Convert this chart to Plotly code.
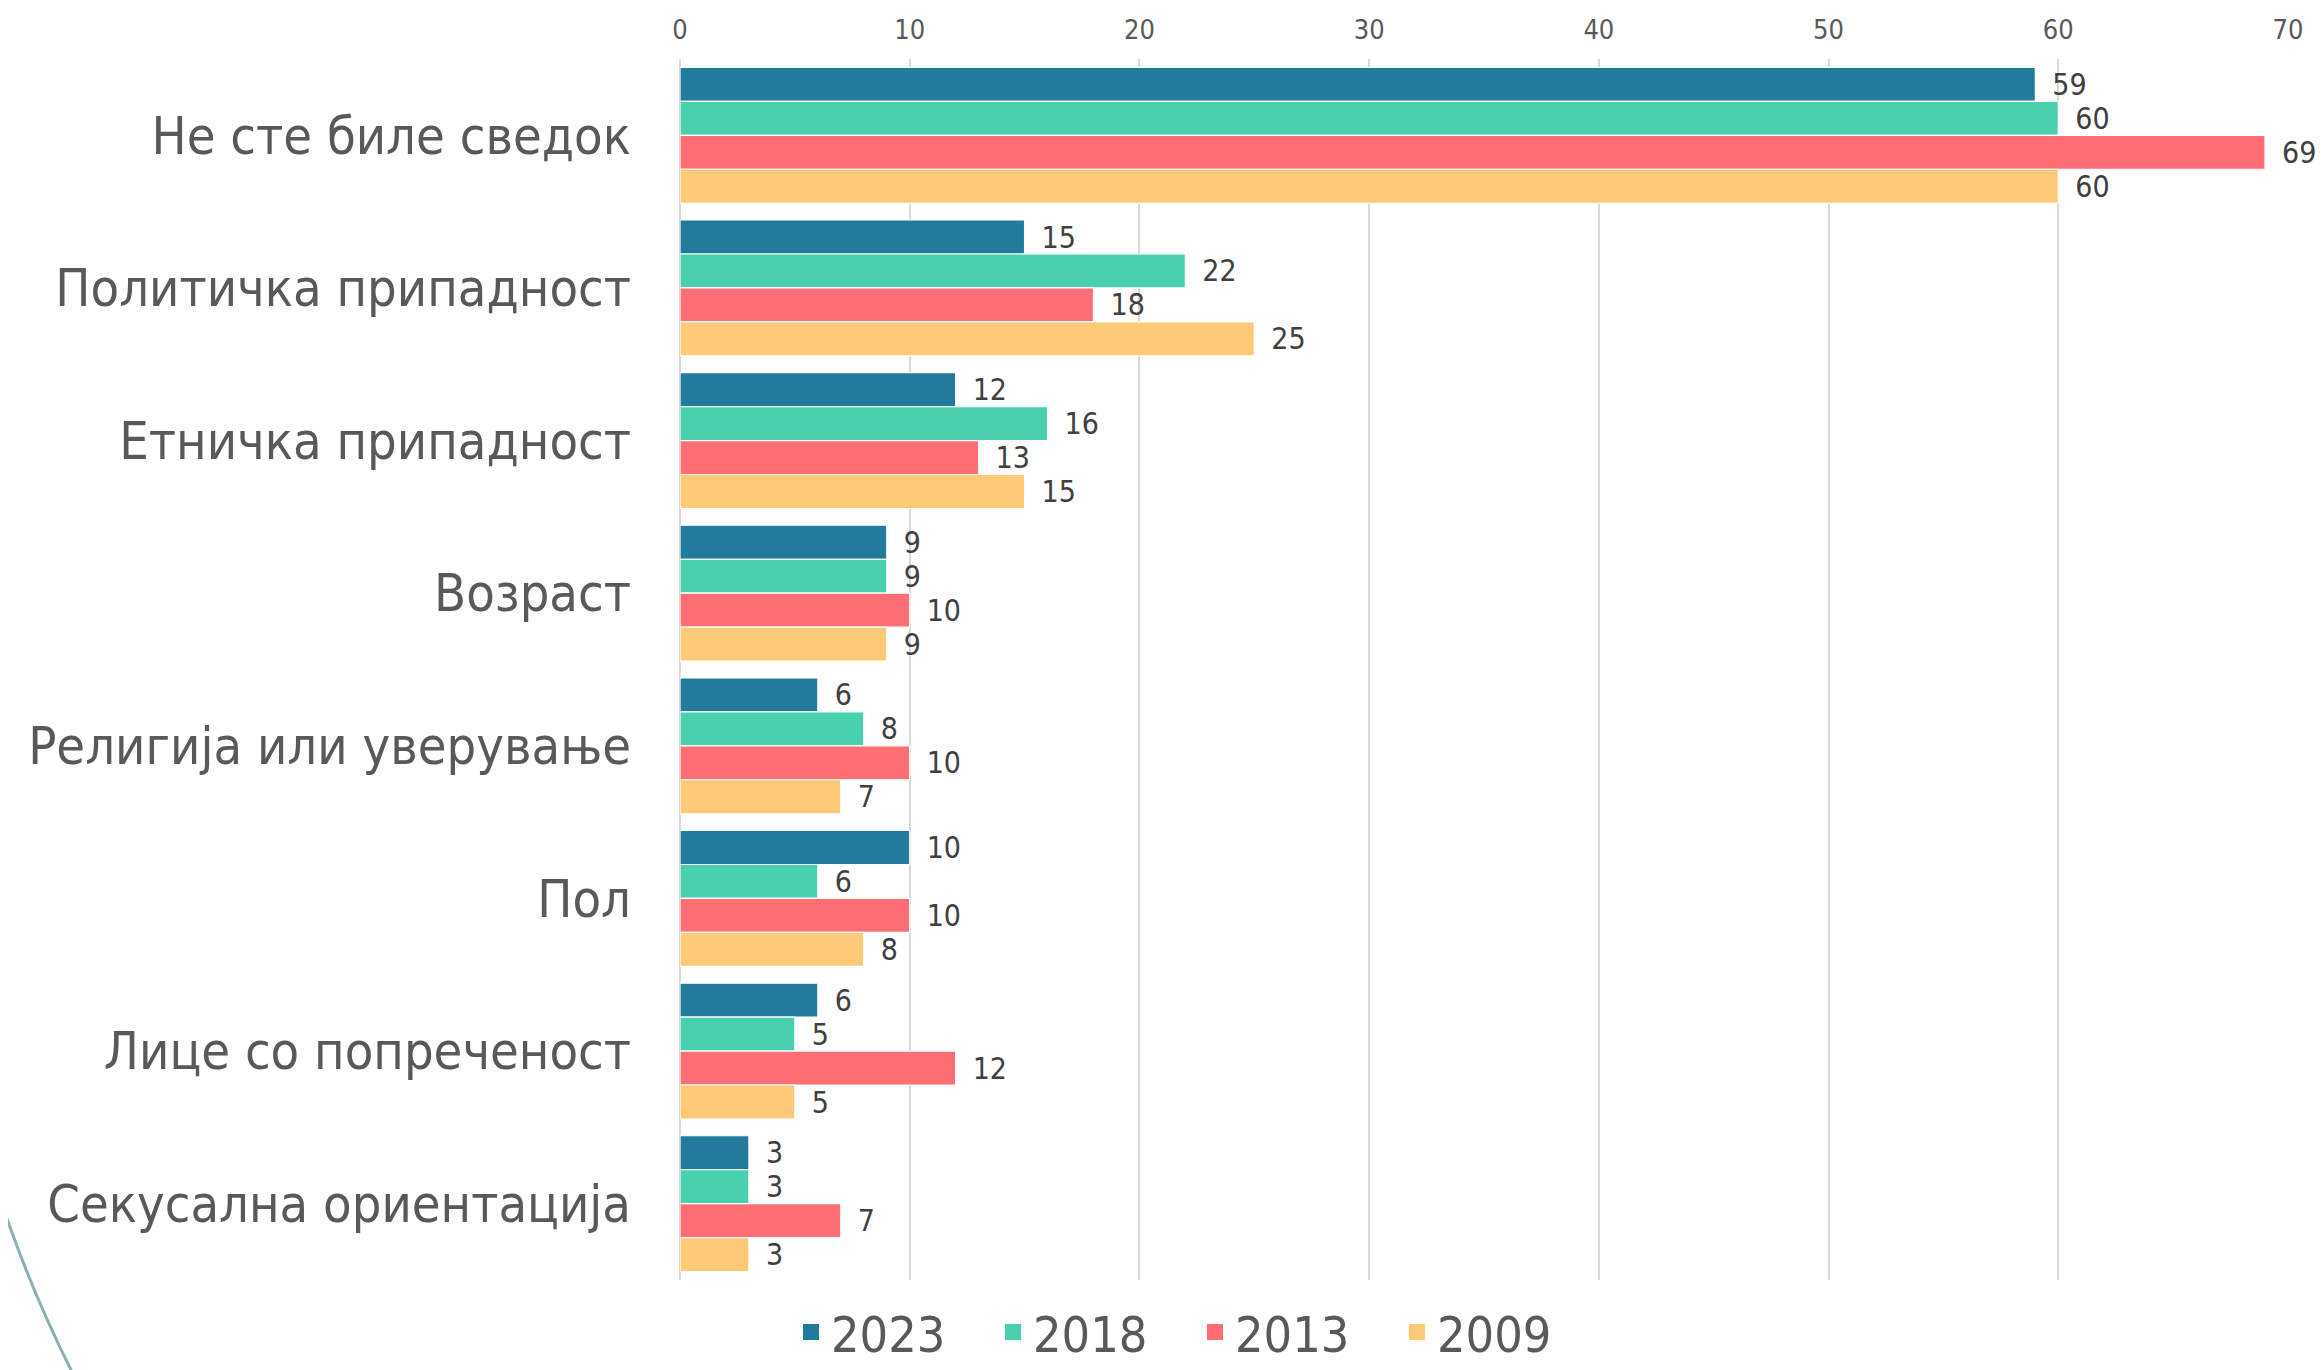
import plotly.graph_objects as go

categories = ["Не сте биле сведок", "Политичка припадност", "Етничка припадност", "Возраст",
              "Религија или уверување", "Пол", "Лице со попреченост", "Секусална ориентација"]
years = ["2023", "2018", "2013", "2009"]
v2023 = [59, 15, 12, 9, 6, 10, 6, 3]
v2018 = [60, 22, 16, 9, 8, 6, 5, 3]
v2013 = [69, 18, 13, 10, 10, 10, 12, 7]
v2009 = [60, 25, 15, 9, 7, 8, 5, 3]
series = [v2023, v2018, v2013, v2009]
colors = ["#237B9C", "#49D0AE", "#FF6E74", "#FFCA78"]
x_ticks = [0, 10, 20, 30, 40, 50, 60, 70]

FONT = "DejaVu Sans Condensed, DejaVu Sans, sans-serif"

# page body has an 8px margin; figure is sized/placed to compensate
W, H = 2316, 1362
L, T, B = 672, 51, 90
PW = 1608
PH = H - T - B

fig = go.Figure()
for name, vals, col in zip(years, series, colors):
    fig.add_trace(go.Bar(
        y=categories, x=vals, name=name, orientation="h",
        marker=dict(color=col, line=dict(color="white", width=1.2)),
        text=vals, texttemplate="\u00a0\u2009%{x}", textposition="outside",
        textfont=dict(family=FONT, size=30, color="#404040"),
        cliponaxis=False, constraintext="none",
        showlegend=False, legendgroup=name,
    ))
for name, col in zip(years, colors):
    fig.add_trace(go.Scatter(
        x=[None], y=[None], mode="markers", name=name, legendgroup=name,
        marker=dict(symbol="square", size=16, color=col),
    ))


def px(x):
    return (x - 8 - L) / PW


def py(y):
    return (T + PH - (y - 8)) / PH


fig.update_layout(
    width=W, height=H,
    paper_bgcolor="white", plot_bgcolor="white",
    margin=dict(l=L, r=W - L - PW, t=T, b=B, autoexpand=False),
    barmode="group", bargap=0.11, bargroupgap=0,
    font=dict(family=FONT, color="#595959"),
    xaxis=dict(side="top", range=[0, 70], tickvals=x_ticks, showgrid=True,
               gridcolor="#D9D9D9", gridwidth=1.5, zeroline=True, zerolinecolor="#D9D9D9",
               zerolinewidth=1.5, tickfont=dict(size=27, color="#595959"),
               ticklabelstandoff=14, showline=False, fixedrange=True),
    yaxis=dict(autorange="reversed", tickfont=dict(size=52, color="#595959"),
               ticklabelstandoff=48, showgrid=False, showline=False, fixedrange=True),
    legend=dict(orientation="h", x=px(1195), xanchor="center", y=py(1293), yanchor="top",
                font=dict(size=50, color="#595959"), itemsizing="trace",
                entrywidth=157, entrywidthmode="pixels",
                bgcolor="rgba(0,0,0,0)"),
    shapes=[dict(type="path", xref="paper", yref="paper",
                 path="M %f,%f Q %f,%f %f,%f" % (px(-12), py(1160), px(20), py(1268), px(72), py(1372)),
                 line=dict(color="#8FB0B2", width=3), layer="below")],
)

fig.write_html("out.html")
